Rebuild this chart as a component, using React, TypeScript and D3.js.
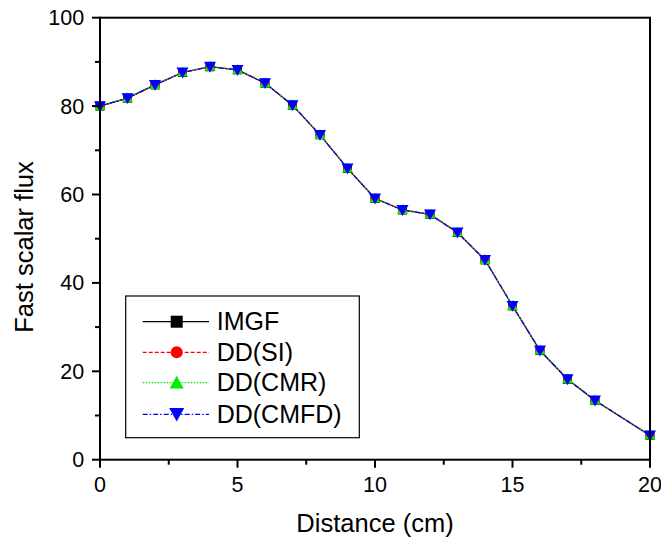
import React from "react";
import * as d3 from "d3";

const distance = [0, 1, 2, 3, 4, 5, 6, 7, 8, 9, 10, 11, 12, 13, 14, 15, 16, 17, 18, 20];
const imgf = [80.0, 81.8, 84.8, 87.6, 88.9, 88.2, 85.2, 80.2, 73.5, 65.9, 59.1, 56.5, 55.5, 51.4, 45.2, 34.8, 24.7, 18.2, 13.4, 5.5];
const ddSI = [80.0, 81.8, 84.8, 87.6, 88.9, 88.2, 85.2, 80.2, 73.5, 65.9, 59.1, 56.5, 55.5, 51.4, 45.2, 34.8, 24.7, 18.2, 13.4, 5.5];
const ddCMR = [80.1, 81.9, 84.9, 87.7, 89.0, 88.3, 85.3, 80.3, 73.6, 66.0, 59.2, 56.6, 55.6, 51.5, 45.3, 34.9, 24.8, 18.3, 13.5, 5.6];
const ddCMFD = [80.0, 81.8, 84.8, 87.6, 88.9, 88.2, 85.2, 80.2, 73.5, 65.9, 59.1, 56.5, 55.5, 51.4, 45.2, 34.8, 24.7, 18.2, 13.4, 5.5];

const xTicks = [0, 5, 10, 15, 20];
const xMinor = [2.5, 7.5, 12.5, 17.5];
const yTicks = [0, 20, 40, 60, 80, 100];
const yMinor = [10, 30, 50, 70, 90];
const seriesNames = ["IMGF", "DD(SI)", "DD(CMR)", "DD(CMFD)"];

const W = 661, H = 539;
const L = 100, R = 650, T = 17.7, B = 459.7;
const FONT = "'Liberation Sans', Arial, sans-serif";

type Sym = "square" | "circle" | "tri" | "itri";

function Marker({ x, y, sym, color, s }: { x: number; y: number; sym: Sym; color: string; s: number }) {
  if (sym === "square") return <rect x={x - s / 2} y={y - s / 2} width={s} height={s} fill={color} />;
  if (sym === "circle") return <circle cx={x} cy={y} r={s / 2} fill={color} />;
  const h = s * 0.9;
  if (sym === "tri")
    return <path d={`M${x},${y - h / 2 - 1}L${x + s / 2 + 0.5},${y + h / 2}L${x - s / 2 - 0.5},${y + h / 2}Z`} fill={color} />;
  return <path d={`M${x},${y + h / 2 + 1}L${x + s / 2 + 0.5},${y - h / 2}L${x - s / 2 - 0.5},${y - h / 2}Z`} fill={color} />;
}

export default function App() {
  const x = d3.scaleLinear().domain([0, 20]).range([L, R]);
  const y = d3.scaleLinear().domain([0, 100]).range([B, T]);
  const series = [
    { name: seriesNames[0], vals: imgf, color: "#000000", dash: "none", sym: "square" as Sym, ms: 9 },
    { name: seriesNames[1], vals: ddSI, color: "#ff0000", dash: "4,2", sym: "circle" as Sym, ms: 9 },
    { name: seriesNames[2], vals: ddCMR, color: "#00ee00", dash: "1.5,1.5", sym: "tri" as Sym, ms: 10 },
    { name: seriesNames[3], vals: ddCMFD, color: "#0000ff", dash: "5,2,1.5,2", sym: "itri" as Sym, ms: 11 },
  ];
  const line = (vals: number[]) =>
    d3.line<number>().x((_, i) => x(distance[i])).y((v) => y(v))(vals) || "";

  const legX = 125.7, legY = 296, legW = 233.6, legH = 141.7;
  const rowYs = [321.7, 352.3, 382.7, 414.3];

  return (
    <svg width={W} height={H} style={{ position: "absolute", left: 0, top: 0, background: "#fff" }} fontFamily={FONT}>
      <rect x={0} y={0} width={W} height={H} fill="#fff" />
      {series.map((s) => (
        <path key={s.name} d={line(s.vals)} fill="none" stroke={s.color} strokeWidth={1.2} strokeDasharray={s.dash} />
      ))}
      {series.map((s) =>
        s.vals.map((v, i) => (
          <Marker key={s.name + i} x={x(distance[i])} y={y(v)} sym={s.sym} color={s.color} s={s.ms} />
        ))
      )}
      {/* frame */}
      <rect x={L} y={T} width={R - L} height={B - T} fill="none" stroke="#000" strokeWidth={2} />
      {/* x ticks */}
      {xTicks.map((t) => (
        <g key={"xt" + t}>
          <line x1={x(t)} x2={x(t)} y1={B} y2={B + 8} stroke="#000" strokeWidth={2} />
          <text x={x(t)} y={B + 32} textAnchor="middle" fontSize={21.5}>{t}</text>
        </g>
      ))}
      {xMinor.map((t) => (
        <line key={"xm" + t} x1={x(t)} x2={x(t)} y1={B} y2={B + 5} stroke="#000" strokeWidth={2} />
      ))}
      {yTicks.map((t) => (
        <g key={"yt" + t}>
          <line x1={L - 8} x2={L} y1={y(t)} y2={y(t)} stroke="#000" strokeWidth={2} />
          <text x={L - 15.8} y={y(t) + 7.5} textAnchor="end" fontSize={21.5}>{t}</text>
        </g>
      ))}
      {yMinor.map((t) => (
        <line key={"ym" + t} x1={L - 5} x2={L} y1={y(t)} y2={y(t)} stroke="#000" strokeWidth={2} />
      ))}
      <text x={375} y={532} textAnchor="middle" fontSize={25.5}>Distance (cm)</text>
      <text transform={`translate(33, 247) rotate(-90)`} textAnchor="middle" fontSize={25.5}>Fast scalar flux</text>
      {/* legend */}
      <rect x={legX} y={legY} width={legW} height={legH} fill="#fff" stroke="#000" strokeWidth={1.2} />
      {series.map((s, i) => (
        <g key={"leg" + s.name}>
          <line x1={142.7} x2={209} y1={rowYs[i]} y2={rowYs[i]} stroke={s.color} strokeWidth={1.2} strokeDasharray={s.dash} />
          <Marker x={176.7} y={rowYs[i]} sym={s.sym} color={s.color} s={s.ms + 3} />
          <text x={216.7} y={rowYs[i] + 8.5} fontSize={25}>{s.name}</text>
        </g>
      ))}
    </svg>
  );
}
